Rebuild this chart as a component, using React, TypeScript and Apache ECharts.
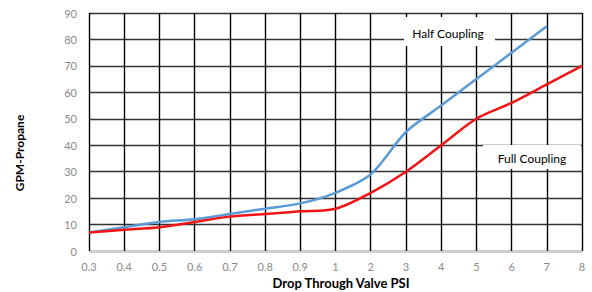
import React, { useEffect, useRef } from "react";
import * as echarts from "echarts";

const categories = ["0.3", "0.4", "0.5", "0.6", "0.7", "0.8", "0.9", "1", "2", "3", "4", "5", "6", "7", "8"];
const halfCoupling = [7, 9, 11, 12, 14, 16, 18, 22, 29, 45, 55, 65, 75, 85];
const fullCoupling = [7, 8, 9, 11, 13, 14, 15, 16, 22, 30, 40, 50, 56, 63, 70];
const yTicks = { min: 0, max: 90, interval: 10 };

const FONT = "Lato, 'Open Sans', sans-serif";

export default function App() {
  const ref = useRef<HTMLDivElement>(null);
  useEffect(() => {
    if (!ref.current) return;
    const chart = echarts.init(ref.current, null, { renderer: "svg" });
    chart.setOption({
      animation: false,
      grid: { left: 89, right: 10, top: 13, bottom: 41, containLabel: false },
      xAxis: {
        type: "category",
        data: categories,
        boundaryGap: false,
        axisLine: { show: true, lineStyle: { color: "#d0d0d0", width: 1 } },
        axisTick: { show: false },
        axisLabel: { color: "#8a8a8a", fontSize: 11, fontFamily: FONT, margin: 10 },
        splitLine: { show: true, lineStyle: { color: "#000000", width: 1.4 } },
      },
      yAxis: {
        type: "value",
        min: yTicks.min,
        max: yTicks.max,
        interval: yTicks.interval,
        axisLine: { show: false },
        axisTick: { show: false },
        axisLabel: { color: "#8a8a8a", fontSize: 11, fontFamily: FONT, margin: 12 },
        splitLine: { show: true, lineStyle: { color: "#333333", width: 1.4 } },
      },
      series: [
        {
          name: "Half Coupling",
          type: "line",
          data: halfCoupling,
          smooth: 0.3,
          symbol: "none",
          lineStyle: { color: "#5b9bd5", width: 2.5 },
          z: 3,
        },
        {
          name: "Full Coupling",
          type: "line",
          data: fullCoupling,
          smooth: 0.3,
          symbol: "none",
          lineStyle: { color: "#f01515", width: 2.5 },
          z: 4,
        },
      ],
      graphic: [
        {
          type: "rect",
          shape: { x: 404, y: 17, width: 91, height: 29 },
          style: { fill: "#ffffff" },
          z: 10,
        },
        {
          type: "text",
          x: 448,
          y: 33,
          style: {
            text: "Half Coupling",
            fill: "#000000",
            font: `12px ${FONT}`,
            align: "center",
            verticalAlign: "middle",
          },
          z: 11,
        },
        {
          type: "rect",
          shape: { x: 483, y: 145, width: 98, height: 24 },
          style: { fill: "#ffffff" },
          z: 10,
        },
        {
          type: "text",
          x: 532,
          y: 158,
          style: {
            text: "Full Coupling",
            fill: "#000000",
            font: `12px ${FONT}`,
            align: "center",
            verticalAlign: "middle",
          },
          z: 11,
        },
        {
          type: "text",
          x: 19,
          y: 153,
          rotation: Math.PI / 2,
          style: {
            text: "GPM-Propane",
            fill: "#000000",
            font: `bold 12px ${FONT}`,
            align: "center",
            verticalAlign: "middle",
          },
          z: 11,
        },
        {
          type: "text",
          x: 341,
          y: 283,
          style: {
            text: "Drop Through Valve PSI",
            fill: "#000000",
            font: `bold 13px ${FONT}`,
            align: "center",
            verticalAlign: "middle",
          },
          z: 11,
        },
      ],
    });
    return () => chart.dispose();
  }, []);
  return <div ref={ref} style={{ width: 592, height: 292, position: "absolute", left: 0, top: 0 }} />;
}
